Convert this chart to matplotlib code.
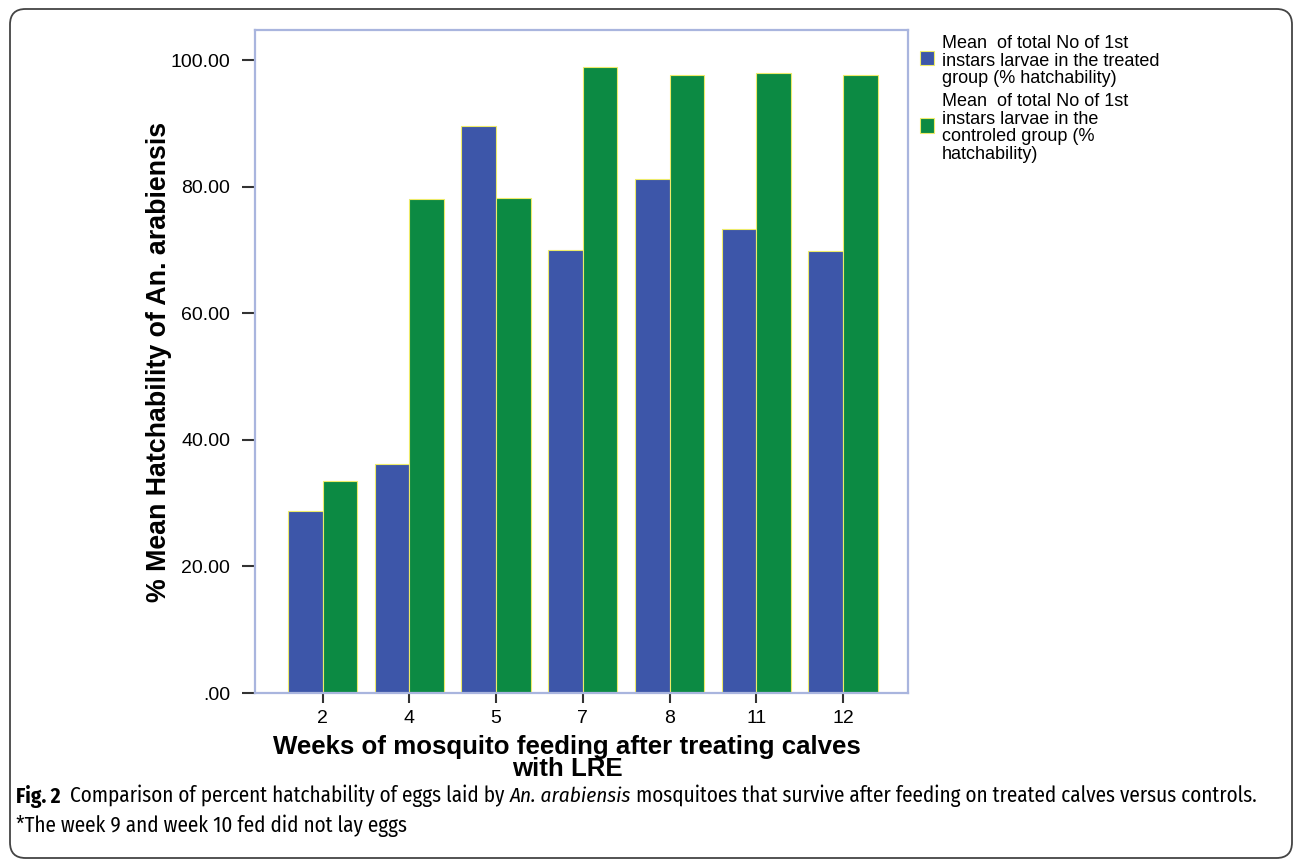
import numpy as np
import matplotlib
matplotlib.use("Agg")
import matplotlib.pyplot as plt
from matplotlib.patches import FancyBboxPatch, Rectangle

weeks = ["2", "4", "5", "7", "8", "11", "12"]
treated = [28.7, 36.2, 89.7, 70.0, 81.2, 73.4, 69.8]
control = [33.5, 78.1, 78.3, 98.9, 97.7, 98.0, 97.7]
legend_labels = [
    "Mean  of total No of 1st\ninstars larvae in the treated\ngroup (% hatchability)",
    "Mean  of total No of 1st\ninstars larvae in the\ncontroled group (%\nhatchability)",
]
yticks = [0, 20, 40, 60, 80, 100]
ytick_labels = [".00", "20.00", "40.00", "60.00", "80.00", "100.00"]

blue = "#3D56A9"
green = "#0C8A43"
edge = "#EDEB6A"

W, H = 1295, 860
fig = plt.figure(figsize=(W / 100, H / 100), dpi=100)
plt.rcParams["font.family"] = ["Liberation Sans", "DejaVu Sans"]


def fx(px):
    return px / W


def fy(py):
    return 1 - py / H


# outer rounded frame
frame = FancyBboxPatch((fx(10), fy(858)), fx(1292) - fx(10), fy(9) - fy(858),
                       boxstyle="round,pad=0,rounding_size=0.012",
                       transform=fig.transFigure, facecolor="none",
                       edgecolor="#444444", linewidth=1.3, mutation_aspect=W / H)
fig.patches.append(frame)

ax = fig.add_axes([fx(255), fy(693), fx(908) - fx(255), fy(30) - fy(693)])
x = np.arange(len(weeks))
bw = 0.40
ax.bar(x - bw / 2, treated, bw, color=blue, edgecolor=edge, linewidth=0.8)
ax.bar(x + bw / 2, control, bw, color=green, edgecolor=edge, linewidth=0.8)

ax.set_xlim(-0.78, 6.75)
ax.set_ylim(0, 104.8)
ax.set_yticks(yticks)
ax.set_yticklabels(ytick_labels)
ax.set_xticks(x)
ax.set_xticklabels(weeks)
ax.tick_params(axis="y", length=9.5, width=1.5, color="#333333", labelsize=14, pad=8.5)
ax.tick_params(axis="x", length=7, width=1.5, color="#333333", labelsize=14, pad=5)
for s in ax.spines.values():
    s.set_color("#A9B5DE")
    s.set_linewidth(1.6)

ax.set_ylabel("% Mean Hatchability of An. arabiensis", fontsize=19.3,
              fontweight="bold", va="center", ha="center")
ax.yaxis.set_label_coords(-0.147, 0.5)

fig.text(fx(567), fy(758), "Weeks of mosquito feeding after treating calves\nwith LRE",
         ha="center", va="center", fontsize=18.6, fontweight="bold", linespacing=0.92)

# legend drawn by hand
fig.patches.append(Rectangle((fx(920), fy(65)), fx(14), 14 / H, transform=fig.transFigure,
                             facecolor=blue, edgecolor=edge, linewidth=0.8))
fig.patches.append(Rectangle((fx(920), fy(133)), fx(14), 15 / H, transform=fig.transFigure,
                             facecolor=green, edgecolor=edge, linewidth=0.8))
fig.text(fx(942), fy(35), legend_labels[0], ha="left", va="top", fontsize=13, linespacing=1.05)
fig.text(fx(942), fy(93), legend_labels[1], ha="left", va="top", fontsize=13, linespacing=1.05)

# caption with mixed styles, condensed font fitted to the frame width
cap_font = ["Fira Sans Condensed", "Liberation Sans", "DejaVu Sans"]
renderer = fig.canvas.get_renderer()

line1 = [("Fig. 2", {"fontweight": "bold"}),
         ("  Comparison of percent hatchability of eggs laid by ", {}),
         ("An. arabiensis", {"style": "italic"}),
         (" mosquitoes that survive after feeding on treated calves versus controls.", {})]
line2 = [("*The week 9 and week 10 fed did not lay eggs", {})]


def run(pieces, x0, y0, size):
    xpos = x0
    made = []
    for txt, kw in pieces:
        t = fig.text(xpos, y0, txt, ha="left", va="center", fontsize=size,
                     family=cap_font, **kw)
        made.append(t)
        xpos = xpos + t.get_window_extent(renderer).width / W
    return xpos, made


end, tmp = run(line1, fx(16), fy(796), 14)
for t in tmp:
    t.remove()
cap_size = 14 * (fx(1263) - fx(16)) / (end - fx(16))
run(line1, fx(16), fy(796), cap_size)
run(line2, fx(16), fy(826), cap_size)

fig.savefig("out.png", dpi=100)
